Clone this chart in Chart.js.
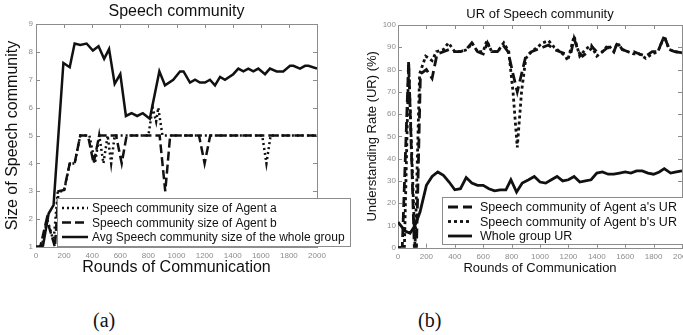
<!DOCTYPE html>
<html>
<head>
<meta charset="utf-8">
<script src="https://cdn.jsdelivr.net/npm/chart.js@4"></script>
<style>
  body { margin: 0; width: 683px; height: 335px; overflow: hidden; background: #fff; position: relative; }
  canvas { position: absolute; top: 0; }
  #graficoA { left: 0; }
  #graficoB { left: 355px; }
  .didascalia { position: absolute; top: 309px; line-height: 22px; font-family: "Liberation Serif", serif; font-size: 20px; color: #111; }
</style>
</head>
<body>
<canvas id="graficoA" width="360" height="290"></canvas>
<canvas id="graficoB" width="370" height="290"></canvas>
<div class="didascalia" style="left:93px">(a)</div>
<div class="didascalia" style="left:418px">(b)</div>
<script>
// (a) size of speech community
var roundsAgentA = [0, 40, 80, 125, 155, 200, 240, 275, 315, 380, 420, 450, 480, 510, 535, 560, 800, 830, 855, 870, 900, 1610, 1640, 1670, 2000];
var sizeAgentA = [1, 1, 2, 1.2, 3, 3, 4, 4, 5, 5, 4, 5, 4, 5, 4, 5, 5, 6, 5.5, 6, 5, 5, 4, 5, 5];

var roundsAgentB = [0, 30, 76, 135, 160, 200, 240, 275, 315, 370, 410, 450, 570, 610, 645, 880, 920, 955, 1160, 1200, 1240, 2000];
var sizeAgentB = [1, 1, 2, 1, 3, 3.05, 4, 4, 5, 5, 4, 5, 5, 4, 5, 5, 3, 5, 5, 4, 5, 5];

var roundsAvg = [0, 50, 90, 125, 195, 240, 275, 315, 360, 405, 445, 485, 520, 560, 600, 640, 680, 720, 760, 810,
    878, 918, 977, 1025, 1050, 1096, 1132, 1167, 1203, 1238, 1274, 1310, 1345, 1404, 1440, 1476, 1511, 1547, 1582, 1630,
    1665, 1713, 1760, 1808, 1832, 1879, 1915, 1939, 2000];
var sizeAvg = [1, 1.05, 2.2, 2.5, 7.6, 7.45, 8.3, 8.25, 8.3, 8.05, 8.2, 7.75, 8.1, 6.85, 7.2, 5.7, 5.8, 5.7, 5.8, 5.6,
    7.3, 6.8, 7.0, 7.3, 7.3, 6.9, 7.0, 6.9, 6.9, 7.0, 6.8, 7.1, 7.0, 7.2, 7.4, 7.3, 7.4, 7.3, 7.4, 7.2,
    7.4, 7.3, 7.3, 7.5, 7.5, 7.4, 7.5, 7.5, 7.4];

// (b) understanding rate
var roundsUrA = [0, 30, 75, 115, 130, 158, 200, 240, 275, 320, 360, 400, 440, 480, 520, 560, 600, 630, 660, 700,
    740, 775, 810, 840, 870, 900, 940, 980, 1020, 1060, 1100, 1140, 1180, 1220, 1240, 1270, 1300, 1340, 1370, 1400,
    1440, 1480, 1520, 1545, 1580, 1620, 1660, 1700, 1745, 1790, 1830, 1875, 1910, 1950, 2000];
var urA = [0, 0, 84, 0, 0, 78, 80, 76, 87, 88, 89, 88, 88, 89, 92, 88, 87, 92, 88, 88,
    91, 88, 78, 70, 78, 86, 88, 89, 90, 91, 89, 88, 87, 88, 94, 88, 86, 88, 90, 88,
    88, 90, 88, 92, 89, 88, 88, 87, 86, 88, 88, 95, 89, 88, 87.5];

var roundsUrB = [0, 45, 75, 120, 152, 195, 240, 270, 320, 355, 400, 440, 490, 520, 560, 600, 625, 660, 700, 745,
    780, 810, 840, 870, 900, 940, 980, 1020, 1060, 1100, 1140, 1180, 1195, 1240, 1280, 1320, 1360, 1400, 1440, 1480,
    1520, 1545, 1580, 1620, 1660, 1700, 1745, 1790, 1830, 1875, 1910, 1950, 2000];
var urB = [0, 0, 82, 0, 78, 86, 84, 88, 89, 92, 88, 88, 89, 92, 88, 88, 93, 88, 88, 92,
    88, 70, 45, 70, 85, 88, 90, 92, 93, 90, 88, 86, 84, 95, 86, 89, 91, 86, 88, 91,
    88, 92, 89, 88, 87, 87, 85, 87, 88, 95, 89, 88, 87.5];

var roundsGroup = [0, 50, 85, 120, 155, 200, 240, 280, 320, 360, 400, 440, 480, 520, 560, 600, 640, 680, 720, 760,
    795, 835, 875, 920, 960, 1000, 1040, 1080, 1120, 1160, 1200, 1240, 1280, 1320, 1360, 1400, 1440, 1480, 1520, 1560,
    1600, 1640, 1680, 1720, 1760, 1800, 1840, 1875, 1920, 1960, 2000];
var urGroup = [11.5, 7.5, 6.5, 10, 16, 28, 32, 34, 32.5, 29.5, 26, 26.5, 31.5, 29, 28, 28, 26.5, 25.5, 26, 26,
    30.5, 25, 29, 30.5, 32, 29.5, 29, 30.5, 32, 30, 30.5, 32, 29.5, 30, 30.5, 33.5, 34, 33, 33, 33.5,
    34, 33.5, 34.5, 34.5, 33.5, 33, 34, 35.5, 33.5, 34, 34.5];

var grigio = '#8c8c8c';
var nero = '#111';

function punti(xs, ys) {
    var out = [];
    for (var i = 0; i < xs.length; i++) {
        out.push({ x: xs[i], y: ys[i] });
    }
    return out;
}

function serie(label, xs, ys, dash, spessore) {
    return {
        label: label,
        data: punti(xs, ys),
        borderColor: nero,
        borderWidth: spessore,
        borderDash: dash,
        pointRadius: 0,
        tension: 0,
        fill: false
    };
}

// frame with inward ticks, title over the plot, boxed legend (matlab style)
var cornice = {
    id: 'cornice',
    beforeDatasetsDraw: function (chart, args, opts) {
        var ctx = chart.ctx, a = chart.chartArea;
        var sx = chart.scales.x, sy = chart.scales.y;
        ctx.save();
        ctx.strokeStyle = grigio;
        ctx.lineWidth = 1;
        ctx.strokeRect(Math.round(a.left) + 0.5, Math.round(a.top) + 0.5, Math.round(a.right - a.left), Math.round(a.bottom - a.top));
        ctx.beginPath();
        sx.ticks.forEach(function (t) {
            var px = Math.round(sx.getPixelForValue(t.value)) + 0.5;
            ctx.moveTo(px, a.bottom); ctx.lineTo(px, a.bottom - 4);
            ctx.moveTo(px, a.top); ctx.lineTo(px, a.top + 4);
        });
        sy.ticks.forEach(function (t) {
            var py = Math.round(sy.getPixelForValue(t.value)) + 0.5;
            ctx.moveTo(a.left, py); ctx.lineTo(a.left + 4, py);
            ctx.moveTo(a.right, py); ctx.lineTo(a.right - 4, py);
        });
        ctx.stroke();

        ctx.fillStyle = nero;
        ctx.font = opts.fontTitolo;
        ctx.textAlign = 'center';
        ctx.textBaseline = 'middle';
        ctx.fillText(opts.titolo, (a.left + a.right) / 2, opts.titoloY);
        ctx.restore();
    },
    afterDatasetsDraw: function (chart, args, opts) {
        var ctx = chart.ctx, b = opts.box;
        ctx.save();
        ctx.fillStyle = '#fff';
        ctx.fillRect(b.x, b.y, b.w, b.h);
        ctx.strokeStyle = grigio;
        ctx.lineWidth = 1;
        ctx.strokeRect(b.x + 0.5, b.y + 0.5, b.w, b.h);
        ctx.font = opts.font;
        ctx.textBaseline = 'middle';
        opts.ordine.forEach(function (i, k) {
            var ds = chart.data.datasets[i];
            var y = b.y + opts.primaRiga + k * opts.passo;
            ctx.beginPath();
            ctx.setLineDash(ds.borderDash || []);
            ctx.lineWidth = ds.borderWidth;
            ctx.strokeStyle = ds.borderColor;
            ctx.moveTo(opts.lineaX0, y);
            ctx.lineTo(opts.lineaX1, y);
            ctx.stroke();
            ctx.setLineDash([]);
            ctx.fillStyle = nero;
            ctx.fillText(ds.label, opts.testoX, y + 1);
        });
        ctx.restore();
    }
};

function assi(yMin, yMax, yStep, yTitolo, titoloFont, larghezzaY, padTitoloY, altezzaX, padTitoloX, padTick) {
    return {
        x: {
            type: 'linear', min: 0, max: 2000,
            grid: { display: false, drawTicks: false },
            border: { display: false },
            ticks: {
                stepSize: 200, color: grigio, font: { family: 'Liberation Sans', size: 8 }, padding: 4, maxRotation: 0,
                callback: function (v) { return String(v); }
            },
            title: { display: true, text: 'Rounds of Communication', color: nero, font: { family: 'Liberation Sans', size: titoloFont }, padding: { top: 0, bottom: padTitoloX } },
            afterFit: function (s) { s.height = altezzaX; }
        },
        y: {
            type: 'linear', min: yMin, max: yMax,
            grid: { display: false, drawTicks: false },
            border: { display: false },
            ticks: {
                stepSize: yStep, color: grigio, font: { family: 'Liberation Sans', size: 8 }, padding: padTick,
                callback: function (v) { return String(v); }
            },
            title: { display: true, text: yTitolo, color: nero, font: { family: 'Liberation Sans', size: titoloFont }, padding: { top: padTitoloY, bottom: 0 } },
            afterFit: function (s) { s.width = larghezzaY; }
        }
    };
}

new Chart(document.getElementById('graficoA'), {
    type: 'line',
    data: {
        datasets: [
            serie('Speech community size of Agent a', roundsAgentA, sizeAgentA, [2, 3], 2.5),
            serie('Speech community size of Agent b', roundsAgentB, sizeAgentB, [9, 4], 2.5),
            serie('Avg Speech community size of the whole group', roundsAvg, sizeAvg, [], 2.5)
        ]
    },
    options: {
        responsive: false,
        animation: false,
        layout: { padding: { left: 0, right: 43, top: 24, bottom: 0 } },
        scales: assi(1, 9, 1, 'Size of Speech community', 16, 36, 3.4, 43, 12.4, 3),
        plugins: {
            legend: { display: false },
            tooltip: { enabled: false },
            title: { display: false },
            cornice: {
                titolo: 'Speech community', titoloY: 12, fontTitolo: '16px "Liberation Sans"',
                box: { x: 57, y: 198, w: 293, h: 48 },
                ordine: [0, 1, 2],
                primaRiga: 10, passo: 14.5,
                lineaX0: 62, lineaX1: 88, testoX: 92,
                font: '12px "Liberation Sans"'
            }
        }
    },
    plugins: [cornice]
});

new Chart(document.getElementById('graficoB'), {
    type: 'line',
    data: {
        datasets: [
            serie("Speech community of Agent a's UR", roundsUrA, urA, [10, 5], 2.8),
            serie("Speech community of Agent b's UR", roundsUrB, urB, [3, 3], 2.8),
            serie('Whole group UR', roundsGroup, urGroup, [], 2.8)
        ]
    },
    options: {
        responsive: false,
        animation: false,
        layout: { padding: { left: 0, right: 43, top: 25, bottom: 0 } },
        scales: assi(0, 100, 10, 'Understanding Rate (UR) (%)', 13, 43, 9.2, 42.3, 14.2, 2),
        plugins: {
            legend: { display: false },
            tooltip: { enabled: false },
            title: { display: false },
            cornice: {
                titolo: 'UR of Speech community', titoloY: 14, fontTitolo: '13px "Liberation Sans"',
                box: { x: 87, y: 197, w: 300, h: 47 },
                ordine: [0, 1, 2],
                primaRiga: 10, passo: 14.5,
                lineaX0: 93, lineaX1: 117, testoX: 125,
                font: '12.5px "Liberation Sans"'
            }
        }
    },
    plugins: [cornice]
});
</script>
</body>
</html>
